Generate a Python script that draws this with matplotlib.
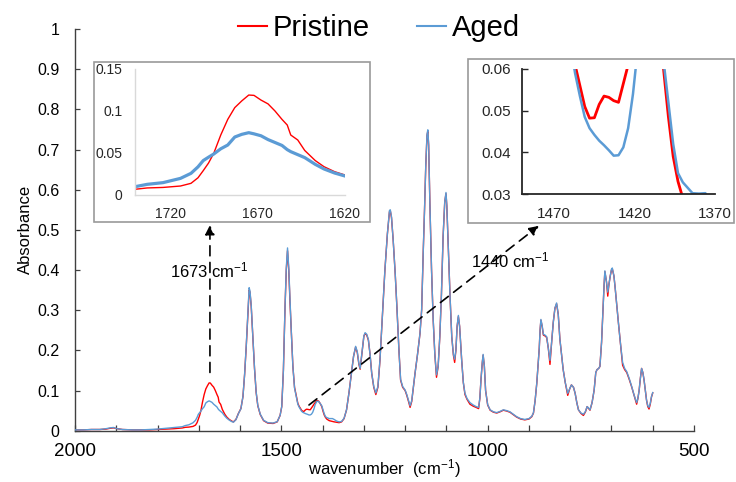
import matplotlib
matplotlib.use("Agg")
import matplotlib.pyplot as plt
from matplotlib.patches import Rectangle
from matplotlib.lines import Line2D
from matplotlib.ticker import MultipleLocator, FixedLocator, FuncFormatter

plt.rcParams['font.family'] = ['Liberation Sans', 'DejaVu Sans']
plt.rcParams['mathtext.default'] = 'regular'

# ---------------- data ----------------
wavenumber = [
    2000, 1980, 1960, 1940, 1925, 1915, 1907, 1898, 1885, 1860, 1840, 1820, 1800, 1780, 1760,
    1745, 1740, 1733, 1724, 1714, 1708, 1704, 1701, 1698, 1695, 1691, 1687, 1683, 1679, 1675,
    1672, 1668, 1664, 1660, 1656, 1653, 1651, 1647, 1643, 1637, 1632, 1626, 1620, 1616, 1610,
    1604, 1598, 1593, 1589, 1585, 1581, 1578, 1576, 1573, 1569, 1565, 1561, 1557, 1551, 1543,
    1533, 1520, 1510, 1503, 1499, 1495, 1491, 1488, 1485, 1482, 1479, 1476, 1472, 1468, 1464,
    1460, 1457, 1454, 1451, 1448, 1445, 1442, 1439, 1436, 1433, 1430, 1427, 1424, 1421, 1418,
    1414, 1410, 1406, 1402, 1399, 1396, 1393, 1390, 1387, 1384, 1380, 1376, 1372, 1366, 1360,
    1354, 1348, 1342, 1336, 1330, 1325, 1320, 1316, 1312, 1309, 1305, 1300, 1297, 1293, 1289,
    1285, 1281, 1276, 1271, 1266, 1261, 1255, 1249, 1243, 1238, 1236, 1233, 1229, 1224, 1220,
    1215, 1211, 1206, 1200, 1196, 1191, 1188, 1184, 1180, 1176, 1170, 1164, 1160, 1156, 1153,
    1150, 1147, 1145, 1143, 1140, 1136, 1132, 1128, 1124, 1120, 1116, 1112, 1108, 1104, 1101,
    1099, 1095, 1091, 1087, 1083, 1080, 1077, 1074, 1071, 1068, 1063, 1059, 1055, 1050, 1043,
    1035, 1028, 1022, 1019, 1016, 1013, 1011, 1008, 1005, 1000, 994, 986, 978, 970, 962,
    954, 946, 938, 930, 920, 910, 900, 893, 889, 885, 881, 878, 875, 873, 871,
    868, 865, 861, 857, 853, 849, 845, 841, 837, 833, 829, 825, 821, 817, 812,
    806, 801, 797, 792, 788, 784, 780, 774, 768, 763, 759, 755, 752, 747, 742,
    738, 735, 731, 728, 724, 721, 718, 716, 712, 709, 706, 703, 700, 698, 694,
    691, 687, 683, 678, 673, 668, 663, 657, 651, 645, 639, 636, 633, 630, 627,
    624, 621, 618, 615, 612, 609, 606, 603, 600,
]

pristine = [
    .002, .002, .003, .003, .004, .006, .007, .005, .003, .002, .002, .002, .003, .004, .005,
    .0063, .0068, .0084, .0090, .0107, .0139, .0205, .0290, .0380, .0496, .0714, .0900, .1040, .1120, .1190,
    .1186, .1130, .1085, .1000, .0900, .0833, .0714, .0655, .0530, .0410, .0337, .0278, .0238, .0220, .0280,
    .0430, .0550, .0850, .1400, .2100, .2900, .3500, .3450, .3100, .2300, .1550, .0950, .0620, .0400, .0250,
    .0190, .0180, .0220, .0380, .0600, .1500, .3090, .4000, .4480, .4000, .3200, .2500, .1600, .1080, .0880,
    .0680, .0610, .0560, .0510, .0482, .0483, .0515, .0535, .0532, .0524, .0520, .0565, .0610, .0660, .0700,
    .0750, .0740, .0680, .0600, .0486, .0390, .0330, .0290, .0270, .0250, .0240, .0230, .0220, .0210, .0200,
    .0220, .0300, .0520, .0950, .1430, .1850, .2080, .1950, .1650, .1530, .1900, .2350, .2420, .2380, .2250,
    .1900, .1430, .1080, .0900, .1080, .1750, .2900, .4000, .4900, .5450, .5480, .5300, .4750, .3900, .3090,
    .2000, .1260, .1080, .1000, .0880, .0700, .0580, .0730, .1080, .1430, .1900, .2420, .3000, .4500, .5500,
    .6600, .7350, .7450, .7100, .5650, .4000, .2760, .1900, .1330, .1600, .2340, .3400, .4830, .5700, .5900,
    .5600, .4420, .3300, .2340, .1880, .1700, .2000, .2600, .2840, .2600, .1760, .1200, .0900, .0780, .0660,
    .0610, .0580, .0550, .0800, .1300, .1700, .1880, .1600, .1000, .0640, .0510, .0460, .0440, .0470, .0510,
    .0490, .0460, .0400, .0340, .0290, .0270, .0290, .0350, .0440, .0750, .1180, .1600, .2050, .2500, .2750,
    .2600, .2380, .2360, .2320, .2050, .1650, .2200, .2700, .3050, .3160, .2900, .2280, .1900, .1520, .1200,
    .0880, .1050, .1140, .1080, .0930, .0700, .0520, .0430, .0380, .0470, .0600, .0550, .0510, .0700, .1010,
    .1450, .1520, .1550, .1600, .2200, .2900, .3600, .3960, .3700, .3350, .3650, .3850, .4000, .4030, .3850,
    .3550, .3100, .2670, .2150, .1630, .1520, .1450, .1280, .1090, .0870, .0660, .0800, .1000, .1300, .1550,
    .1450, .1260, .1000, .0760, .0600, .0540, .0660, .0840, .0940,
]

aged = [
    .002, .002, .003, .003, .005, .007, .008, .005, .003, .002, .002, .003, .004, .006, .008,
    .0093, .0099, .0127, .0147, .0198, .0258, .0335, .0410, .0450, .0488, .0550, .0595, .0690, .0722, .0742,
    .0728, .0705, .0660, .0625, .0590, .0540, .0516, .0480, .0445, .0365, .0310, .0262, .0226, .0212, .0275,
    .0425, .0545, .0850, .1400, .2120, .2950, .3560, .3480, .3120, .2320, .1560, .0960, .0630, .0410, .0260,
    .0200, .0190, .0225, .0380, .0600, .1500, .3100, .4050, .4550, .4050, .3250, .2500, .1600, .1060, .0860,
    .0660, .0590, .0535, .0485, .0458, .0442, .0428, .0417, .0405, .0392, .0393, .0412, .0458, .0540, .0650,
    .0730, .0730, .0680, .0620, .0520, .0420, .0350, .0328, .0315, .0302, .0301, .0302, .0280, .0240, .0220,
    .0230, .0310, .0520, .0950, .1430, .1850, .2100, .1970, .1670, .1550, .1900, .2360, .2440, .2400, .2270,
    .1900, .1430, .1100, .0940, .1100, .1760, .2900, .4000, .4900, .5480, .5500, .5320, .4750, .3900, .3090,
    .2000, .1280, .1100, .1010, .0900, .0720, .0620, .0750, .1100, .1430, .1900, .2420, .3000, .4500, .5500,
    .6600, .7380, .7490, .7120, .5660, .4000, .2760, .1900, .1390, .1600, .2340, .3400, .4830, .5700, .5930,
    .5600, .4420, .3300, .2340, .1900, .1780, .2000, .2600, .2870, .2600, .1760, .1200, .0930, .0800, .0700,
    .0640, .0600, .0580, .0800, .1300, .1700, .1900, .1600, .1000, .0650, .0520, .0470, .0450, .0480, .0520,
    .0500, .0470, .0410, .0350, .0300, .0280, .0300, .0360, .0450, .0750, .1180, .1600, .2050, .2500, .2770,
    .2620, .2400, .2380, .2340, .2050, .1750, .2200, .2700, .3050, .3180, .2900, .2280, .1900, .1520, .1200,
    .0930, .1050, .1140, .1080, .0930, .0700, .0520, .0440, .0410, .0480, .0600, .0560, .0520, .0700, .1010,
    .1450, .1520, .1550, .1600, .2200, .2900, .3600, .3980, .3700, .3450, .3650, .3850, .4020, .4050, .3850,
    .3550, .3100, .2670, .2150, .1700, .1550, .1470, .1300, .1100, .0880, .0700, .0800, .1000, .1300, .1550,
    .1450, .1260, .1000, .0760, .0620, .0580, .0680, .0850, .0950,
]

series_labels = ["Pristine", "Aged"]
main_xticks = [2000, 1500, 1000, 500]
main_yticks = [0, 0.1, 0.2, 0.3, 0.4, 0.5, 0.6, 0.7, 0.8, 0.9, 1.0]
inset1_xticks = [1720, 1670, 1620]
inset1_yticks = [0, 0.05, 0.1, 0.15]
inset2_xticks = [1470, 1420, 1370]
inset2_yticks = [0.03, 0.04, 0.05, 0.06]

RED = '#FF0000'
BLUE = '#5B9BD5'

W, H = 736, 482
fig = plt.figure(figsize=(W / 100, H / 100), dpi=100)


def fx(px):
    return px / W


def fy(py):
    return 1 - py / H


fmt = FuncFormatter(lambda v, p: ('%g' % round(v, 4)))

# ---------------- main axes ----------------
ax = fig.add_axes([fx(75), fy(430.7), fx(694) - fx(75), fy(29) - fy(430.7)])
ax.plot(wavenumber, pristine, color=RED, lw=1.0, zorder=2)
ax.plot(wavenumber, aged, color=BLUE, lw=1.0, zorder=3)
ax.set_xlim(2000, 500)
ax.set_ylim(0, 1)
ax.xaxis.set_major_locator(FixedLocator(main_xticks))
ax.xaxis.set_minor_locator(MultipleLocator(100))
ax.yaxis.set_major_locator(FixedLocator(main_yticks))
ax.yaxis.set_major_formatter(fmt)
ax.xaxis.set_major_formatter(fmt)
for s in ['top', 'right']:
    ax.spines[s].set_visible(False)
for s in ['left', 'bottom']:
    ax.spines[s].set_color('#404040')
    ax.spines[s].set_linewidth(1.0)
ax.tick_params(axis='x', which='both', direction='in', length=4, width=0.9,
               color='#404040', labelsize=13.5, pad=9)
ax.tick_params(axis='y', which='both', direction='in', length=3.5, width=0.9,
               color='#404040', labelsize=11.5, pad=11)
ax.set_xlabel('wavenumber  (cm$^{-1}$)', fontsize=12, labelpad=-2)
ax.set_ylabel('Absorbance', fontsize=12, labelpad=3)

# arrows and annotations
arrow_kw = dict(arrowstyle='-|>', color='black', lw=1.2, linestyle=(0, (6, 4)),
                mutation_scale=14, shrinkA=0, shrinkB=0)
ax.annotate('', xy=(1673, 0.512), xytext=(1673, 0.145), arrowprops=arrow_kw, zorder=4)
ax.annotate('', xy=(876, 0.51), xytext=(1433, 0.064), arrowprops=arrow_kw, zorder=4)
ax.text(1674, 0.40, '1673 cm$^{-1}$', fontsize=12, ha='center', va='center', zorder=5)
ax.text(946, 0.425, '1440 cm$^{-1}$', fontsize=12, ha='center', va='center', zorder=5)

# legend
handles = [Line2D([], [], color=RED, lw=1.5), Line2D([], [], color=BLUE, lw=1.5)]
fig.legend(handles, series_labels, loc='center', bbox_to_anchor=(fx(379), fy(28)),
           ncol=2, frameon=False, fontsize=21, handlelength=1.0, handletextpad=0.2,
           columnspacing=1.6, borderpad=0, borderaxespad=0)

# ---------------- inset frames ----------------
fig.add_artist(Rectangle((fx(94), fy(222)), fx(370) - fx(94), fy(62) - fy(222),
                         transform=fig.transFigure, facecolor='white', edgecolor='#9a9a9a',
                         lw=1.2, zorder=1))
fig.add_artist(Rectangle((fx(468), fy(223)), fx(734) - fx(468), fy(59) - fy(223),
                         transform=fig.transFigure, facecolor='white', edgecolor='#9a9a9a',
                         lw=1.2, zorder=1))

# ---------------- inset 1 ----------------
ax1 = fig.add_axes([fx(135), fy(195), fx(345) - fx(135), fy(69) - fy(195)], zorder=2)
ax1.patch.set_alpha(0)
ax1.plot(wavenumber, pristine, color=RED, lw=1.0)
ax1.plot(wavenumber, aged, color=BLUE, lw=2.3)
ax1.set_xlim(1740, 1620)
ax1.set_ylim(0, 0.15)
ax1.xaxis.set_major_locator(FixedLocator(inset1_xticks))
ax1.yaxis.set_major_locator(FixedLocator(inset1_yticks))
ax1.yaxis.set_major_formatter(fmt)
for s in ['top', 'right']:
    ax1.spines[s].set_visible(False)
for s in ['left', 'bottom']:
    ax1.spines[s].set_color('#d9d9d9')
    ax1.spines[s].set_linewidth(1.0)
ax1.tick_params(axis='both', length=0, labelsize=10, colors='#262626')
ax1.tick_params(axis='x', pad=9)
ax1.tick_params(axis='y', pad=9)

# ---------------- inset 2 ----------------
ax2 = fig.add_axes([fx(522), fy(194), fx(715) - fx(522), fy(69) - fy(194)], zorder=2)
ax2.patch.set_alpha(0)
ax2.plot(wavenumber, pristine, color=RED, lw=2.0)
ax2.plot(wavenumber, aged, color=BLUE, lw=1.8)
ax2.set_xlim(1490, 1370)
ax2.set_ylim(0.03, 0.06)
ax2.xaxis.set_major_locator(FixedLocator(inset2_xticks))
ax2.yaxis.set_major_locator(FixedLocator(inset2_yticks))
ax2.yaxis.set_major_formatter(FuncFormatter(lambda v, p: '%.2f' % v))
for s in ['top', 'right']:
    ax2.spines[s].set_visible(False)
for s in ['left', 'bottom']:
    ax2.spines[s].set_color('#262626')
    ax2.spines[s].set_linewidth(1.3)
ax2.tick_params(axis='y', direction='in', length=4, width=1.0, labelsize=11, pad=8,
                colors='#262626')
ax2.tick_params(axis='x', length=0, labelsize=11, pad=9, colors='#262626')

fig.savefig('out.png', dpi=100)
